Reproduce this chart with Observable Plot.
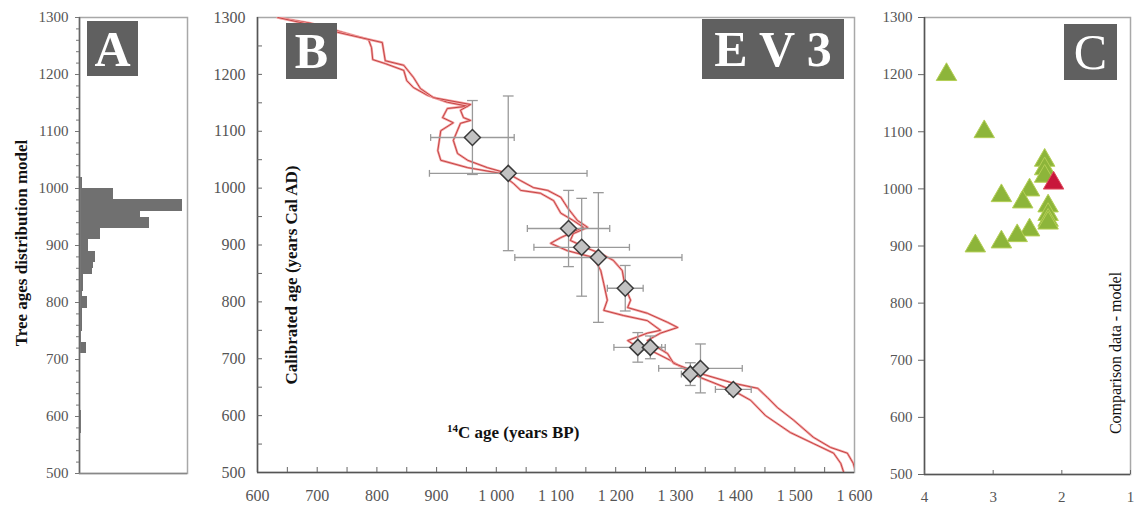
<!DOCTYPE html>
<html><head><meta charset="utf-8">
<script src="https://cdn.jsdelivr.net/npm/d3@7"></script>
<script src="https://cdn.jsdelivr.net/npm/@observablehq/plot@0.6"></script>
<style>
body{margin:0;background:#fff;}
#wrap{position:relative;width:1136px;height:511px;overflow:hidden;font-family:"Liberation Serif",serif;}
#wrap svg, #wrap svg g, #wrap svg text{font-family:"Liberation Serif",serif !important;}
.box{position:absolute;background:#606060;color:#fff;font-weight:bold;display:flex;align-items:center;justify-content:center;font-family:"Liberation Serif",serif;line-height:1;}
.title{position:absolute;white-space:nowrap;font-family:"Liberation Serif",serif;color:#111;line-height:1;}
.rot{transform:translate(-50%,-50%) rotate(-90deg);}
</style></head><body><div id="wrap"></div>
<script>
// ---------- data ----------
const yTickValues = [500,600,700,800,900,1000,1100,1200,1300];

// Panel A: tree ages distribution (10-year bins, start year)
const histStart = [1010,1000,990,980,970,960,950,940,930,920,910,900,890,880,870,860,850,840,830,820,810,800,790,780,770,760,750,740,730,720,710,700,600,590,580,570];
const histCount = [0.8,0.8,9.4,9.4,28.6,28.6,17,19.4,19.4,5.8,5.8,2.5,2.5,4.4,4.4,3.9,3.6,1.1,1.1,1.1,0.8,2.2,2.2,0.8,0.8,0.8,0.8,0.6,0.6,1.9,1.9,0.4,0.6,0.6,0.6,0.6];
const histBinWidth = 10;

// Panel B: calibration curve envelope
const leftC14 = [634,689,739,786,791,793,814,845,850,861,885,918,952,918,910,928,907,902,907,952,1007,1029,1041,1074,1096,1108,1129,1146,1108,1091,1119,1163,1175,1180,1186,1180,1213,1253,1275,1253,1220,1237,1258,1292,1320,1342,1397,1426,1451,1493,1531,1565,1577,1582];
const leftCal = [1300,1290,1275,1261,1247,1226,1219,1207,1189,1177,1163,1151,1144,1140,1124,1115,1101,1066,1049,1036,1026,1008,996,991,978,956,943,931,913,903,890,878,855,832,803,785,776,767,750,745,732,720,715,697,679,667,644,627,600,570,551,534,516,500];
const rightC14 = [634,694,734,809,814,845,861,873,895,957,940,945,957,940,928,935,952,985,1019,1041,1062,1086,1108,1119,1136,1153,1129,1124,1153,1175,1196,1211,1216,1225,1220,1253,1287,1304,1275,1253,1270,1287,1297,1342,1397,1438,1454,1471,1498,1531,1560,1588,1598,1602];
const rightCal = [1300,1286,1274,1256,1224,1216,1195,1175,1159,1147,1137,1124,1119,1114,1084,1061,1049,1036,1026,1013,1001,996,984,966,943,931,920,908,894,885,873,855,825,803,790,780,764,755,745,732,720,709,692,674,657,648,632,614,592,562,544,534,516,500];

// Panel B: dated samples
const sampleC14 = [960,1020,1121,1143,1171,1216,1237,1258,1325,1342,1397];
const sampleCal = [1089,1026,929,896,878,824,720,720,673,683,646];
const sampleC14Err = [70,132,69,80,140,30,40,25,15,70,30];
const sampleCalErr = [65,136,67,86,114,40,26,20,20,43,8];
const xTickValuesB = [600,700,800,900,1000,1100,1200,1300,1400,1500,1600];
const xTickLabelsB = ["600","700","800","900","1 000","1 100","1 200","1 300","1 400","1 500","1 600"];

// Panel C: comparison data - model
const compX = [3.68,3.13,2.25,2.25,2.25,2.88,2.47,2.57,2.2,2.2,2.2,2.2,2.47,2.65,2.88,3.26];
const compY = [1200,1100,1050,1035,1022,988,998,977,970,955,945,940,928,918,907,900];
const highlightX = [2.12];
const highlightY = [1010];
const xTickValuesC = [4,3,2,1];

// ---------- helpers ----------
const wrap = document.getElementById("wrap");
function place(el, left, top){ el.style.position="absolute"; el.style.left=left+"px"; el.style.top=top+"px"; wrap.appendChild(el); }
function addDiv(cls, html, css){ const d=document.createElement("div"); d.className=cls; d.innerHTML=html; Object.assign(d.style, css); wrap.appendChild(d); return d; }
const serif = "Liberation Serif";
const fmt = d => String(d);
const styleStr = size => `background:transparent;font-family:"Liberation Serif",serif;font-size:${size}px;color:#555;overflow:visible;`;

// ---------- Panel A ----------
const histData = histStart.map((s,i)=>({y1:s, y2:s+histBinWidth, n:histCount[i]}));
const minorA = d3.range(500, 1301, 20);
const plotA = Plot.plot({
  width:200, height:511, marginLeft:79, marginRight:13, marginTop:17, marginBottom:38,
  style: styleStr(15),
  x:{domain:[0,30], axis:null},
  y:{domain:[500,1300]},
  marks:[
    Plot.rectX(histData,{x:"n", y1:"y1", y2:"y2", fill:"#707070", shapeRendering:"crispEdges"}),
    Plot.frame({stroke:"#a8a8a8", strokeWidth:1.5}),
    Plot.ruleX([0],{stroke:"#666", strokeWidth:1.5}),
    Plot.ruleY([500],{stroke:"#888", strokeWidth:1.5}),
    Plot.axisY(minorA,{tickSize:3, text:null, label:null, stroke:"#777"}),
    Plot.axisY(yTickValues,{tickSize:4, tickPadding:7, label:null, stroke:"#777", fill:"#555", tickFormat:fmt, fontFamily:serif, fontSize:15})
  ]
});
place(plotA, 0, 0);

// ---------- Panel B ----------
const leftCurve = leftC14.map((c,i)=>({c14:c, cal:leftCal[i]}));
const rightCurve = rightC14.map((c,i)=>({c14:c, cal:rightCal[i]}));
const samples = sampleC14.map((c,i)=>({c14:c, cal:sampleCal[i], ex:sampleC14Err[i], ey:sampleCalErr[i]}));
const capX = 9, capY = 6;
const minorXB = d3.range(650, 1600, 50);
const minorYB = d3.range(550, 1300, 50);
const curveMarks = [leftCurve, rightCurve].flatMap(c => [
  Plot.line(c,{x:"c14", y:"cal", stroke:"#f3a3a3", strokeWidth:2.4, clip:true}),
  Plot.line(c,{x:"c14", y:"cal", stroke:"#c03a3a", strokeWidth:0.9, clip:true})
]);
const eb = {stroke:"#9a9a9a", strokeWidth:1.3};
const plotB = Plot.plot({
  width:660, height:511, marginLeft:57, marginRight:6, marginTop:17, marginBottom:39,
  style: styleStr(16),
  x:{domain:[600,1600]},
  y:{domain:[500,1300]},
  marks:[
    Plot.frame({stroke:"#a8a8a8", strokeWidth:1.5}),
    ...curveMarks,
    Plot.link(samples,{x1:d=>d.c14-d.ex, x2:d=>d.c14+d.ex, y1:"cal", y2:"cal", ...eb}),
    Plot.link(samples,{x1:"c14", x2:"c14", y1:d=>d.cal-d.ey, y2:d=>d.cal+d.ey, ...eb}),
    Plot.link(samples,{x1:d=>d.c14-d.ex, x2:d=>d.c14-d.ex, y1:d=>d.cal-capY, y2:d=>d.cal+capY, ...eb}),
    Plot.link(samples,{x1:d=>d.c14+d.ex, x2:d=>d.c14+d.ex, y1:d=>d.cal-capY, y2:d=>d.cal+capY, ...eb}),
    Plot.link(samples,{x1:d=>d.c14-capX, x2:d=>d.c14+capX, y1:d=>d.cal-d.ey, y2:d=>d.cal-d.ey, ...eb}),
    Plot.link(samples,{x1:d=>d.c14-capX, x2:d=>d.c14+capX, y1:d=>d.cal+d.ey, y2:d=>d.cal+d.ey, ...eb}),
    Plot.dot(samples,{x:"c14", y:"cal", symbol:"diamond2", r:7.2, fill:"#c2c2c2", stroke:"#3a3a3a", strokeWidth:1.5}),
    Plot.ruleY([500],{stroke:"#555", strokeWidth:1.5}),
    Plot.ruleX([600],{stroke:"#555", strokeWidth:1.5}),
    Plot.axisX(minorXB,{tickSize:-5, text:null, label:null, stroke:"#666"}),
    Plot.axisY(minorYB,{tickSize:-5, text:null, label:null, stroke:"#666"}),
    Plot.axisX(xTickValuesB,{tickSize:0, tickPadding:17, label:null, tickFormat:(d,i)=>xTickLabelsB[i], fill:"#555", fontFamily:serif, fontSize:16}),
    Plot.axisY(yTickValues,{tickSize:0, tickPadding:12, label:null, fill:"#555", tickFormat:fmt, fontFamily:serif, fontSize:16})
  ]
});
place(plotB, 200, 0);

// ---------- Panel C ----------
const comp = compX.map((x,i)=>({x, y:compY[i]}));
const hl = highlightX.map((x,i)=>({x, y:highlightY[i]}));
const plotC = Plot.plot({
  width:276, height:511, marginLeft:64, marginRight:6, marginTop:17, marginBottom:37,
  style: styleStr(15),
  x:{domain:[4,1]},
  y:{domain:[500,1300]},
  marks:[
    Plot.frame({stroke:"#a8a8a8", strokeWidth:1.5}),
    Plot.dot(comp,{x:"x", y:"y", symbol:"triangle", r:7.6, fill:"#8db53a", stroke:"#b4cf55", strokeWidth:1}),
    Plot.dot(hl,{x:"x", y:"y", symbol:"triangle", r:7.6, fill:"#c8163a", stroke:"#e05060", strokeWidth:1}),
    Plot.ruleY([500],{stroke:"#555", strokeWidth:1.5}),
    Plot.ruleX([4],{stroke:"#555", strokeWidth:1.5}),
    Plot.axisX(xTickValuesC,{tickSize:-4, tickPadding:21, label:null, stroke:"#666", fill:"#555", tickFormat:fmt, fontFamily:serif, fontSize:15}),
    Plot.axisY(yTickValues,{tickSize:6, tickPadding:6, label:null, stroke:"#666", fill:"#555", tickFormat:fmt, fontFamily:serif, fontSize:15})
  ]
});
place(plotC, 860, 0);

// ---------- labels & titles ----------
addDiv("box","A",{left:"87px",top:"21px",width:"51px",height:"55px",fontSize:"50px"});
addDiv("box","B",{left:"286px",top:"23px",width:"51px",height:"56px",fontSize:"50px"});
addDiv("box","E V 3",{left:"702px",top:"19px",width:"142px",height:"60px",fontSize:"50px"});
addDiv("box","C",{left:"1064px",top:"24px",width:"53px",height:"56px",fontSize:"50px",fontWeight:"normal"});

addDiv("title rot","Tree ages distribution model",{left:"21px",top:"243px",fontSize:"17px",fontWeight:"bold"});
addDiv("title rot","Calibrated age (years Cal AD)",{left:"291px",top:"275px",fontSize:"17px",fontWeight:"bold"});
addDiv("title rot","Comparison data - model",{left:"1116px",top:"353px",fontSize:"16px"});
addDiv("title","<sup style='font-size:11px'>14</sup>C age (years BP)",{left:"447px",top:"432px",transform:"translateY(-50%)",fontSize:"17px",fontWeight:"bold"});
</script></body></html>
